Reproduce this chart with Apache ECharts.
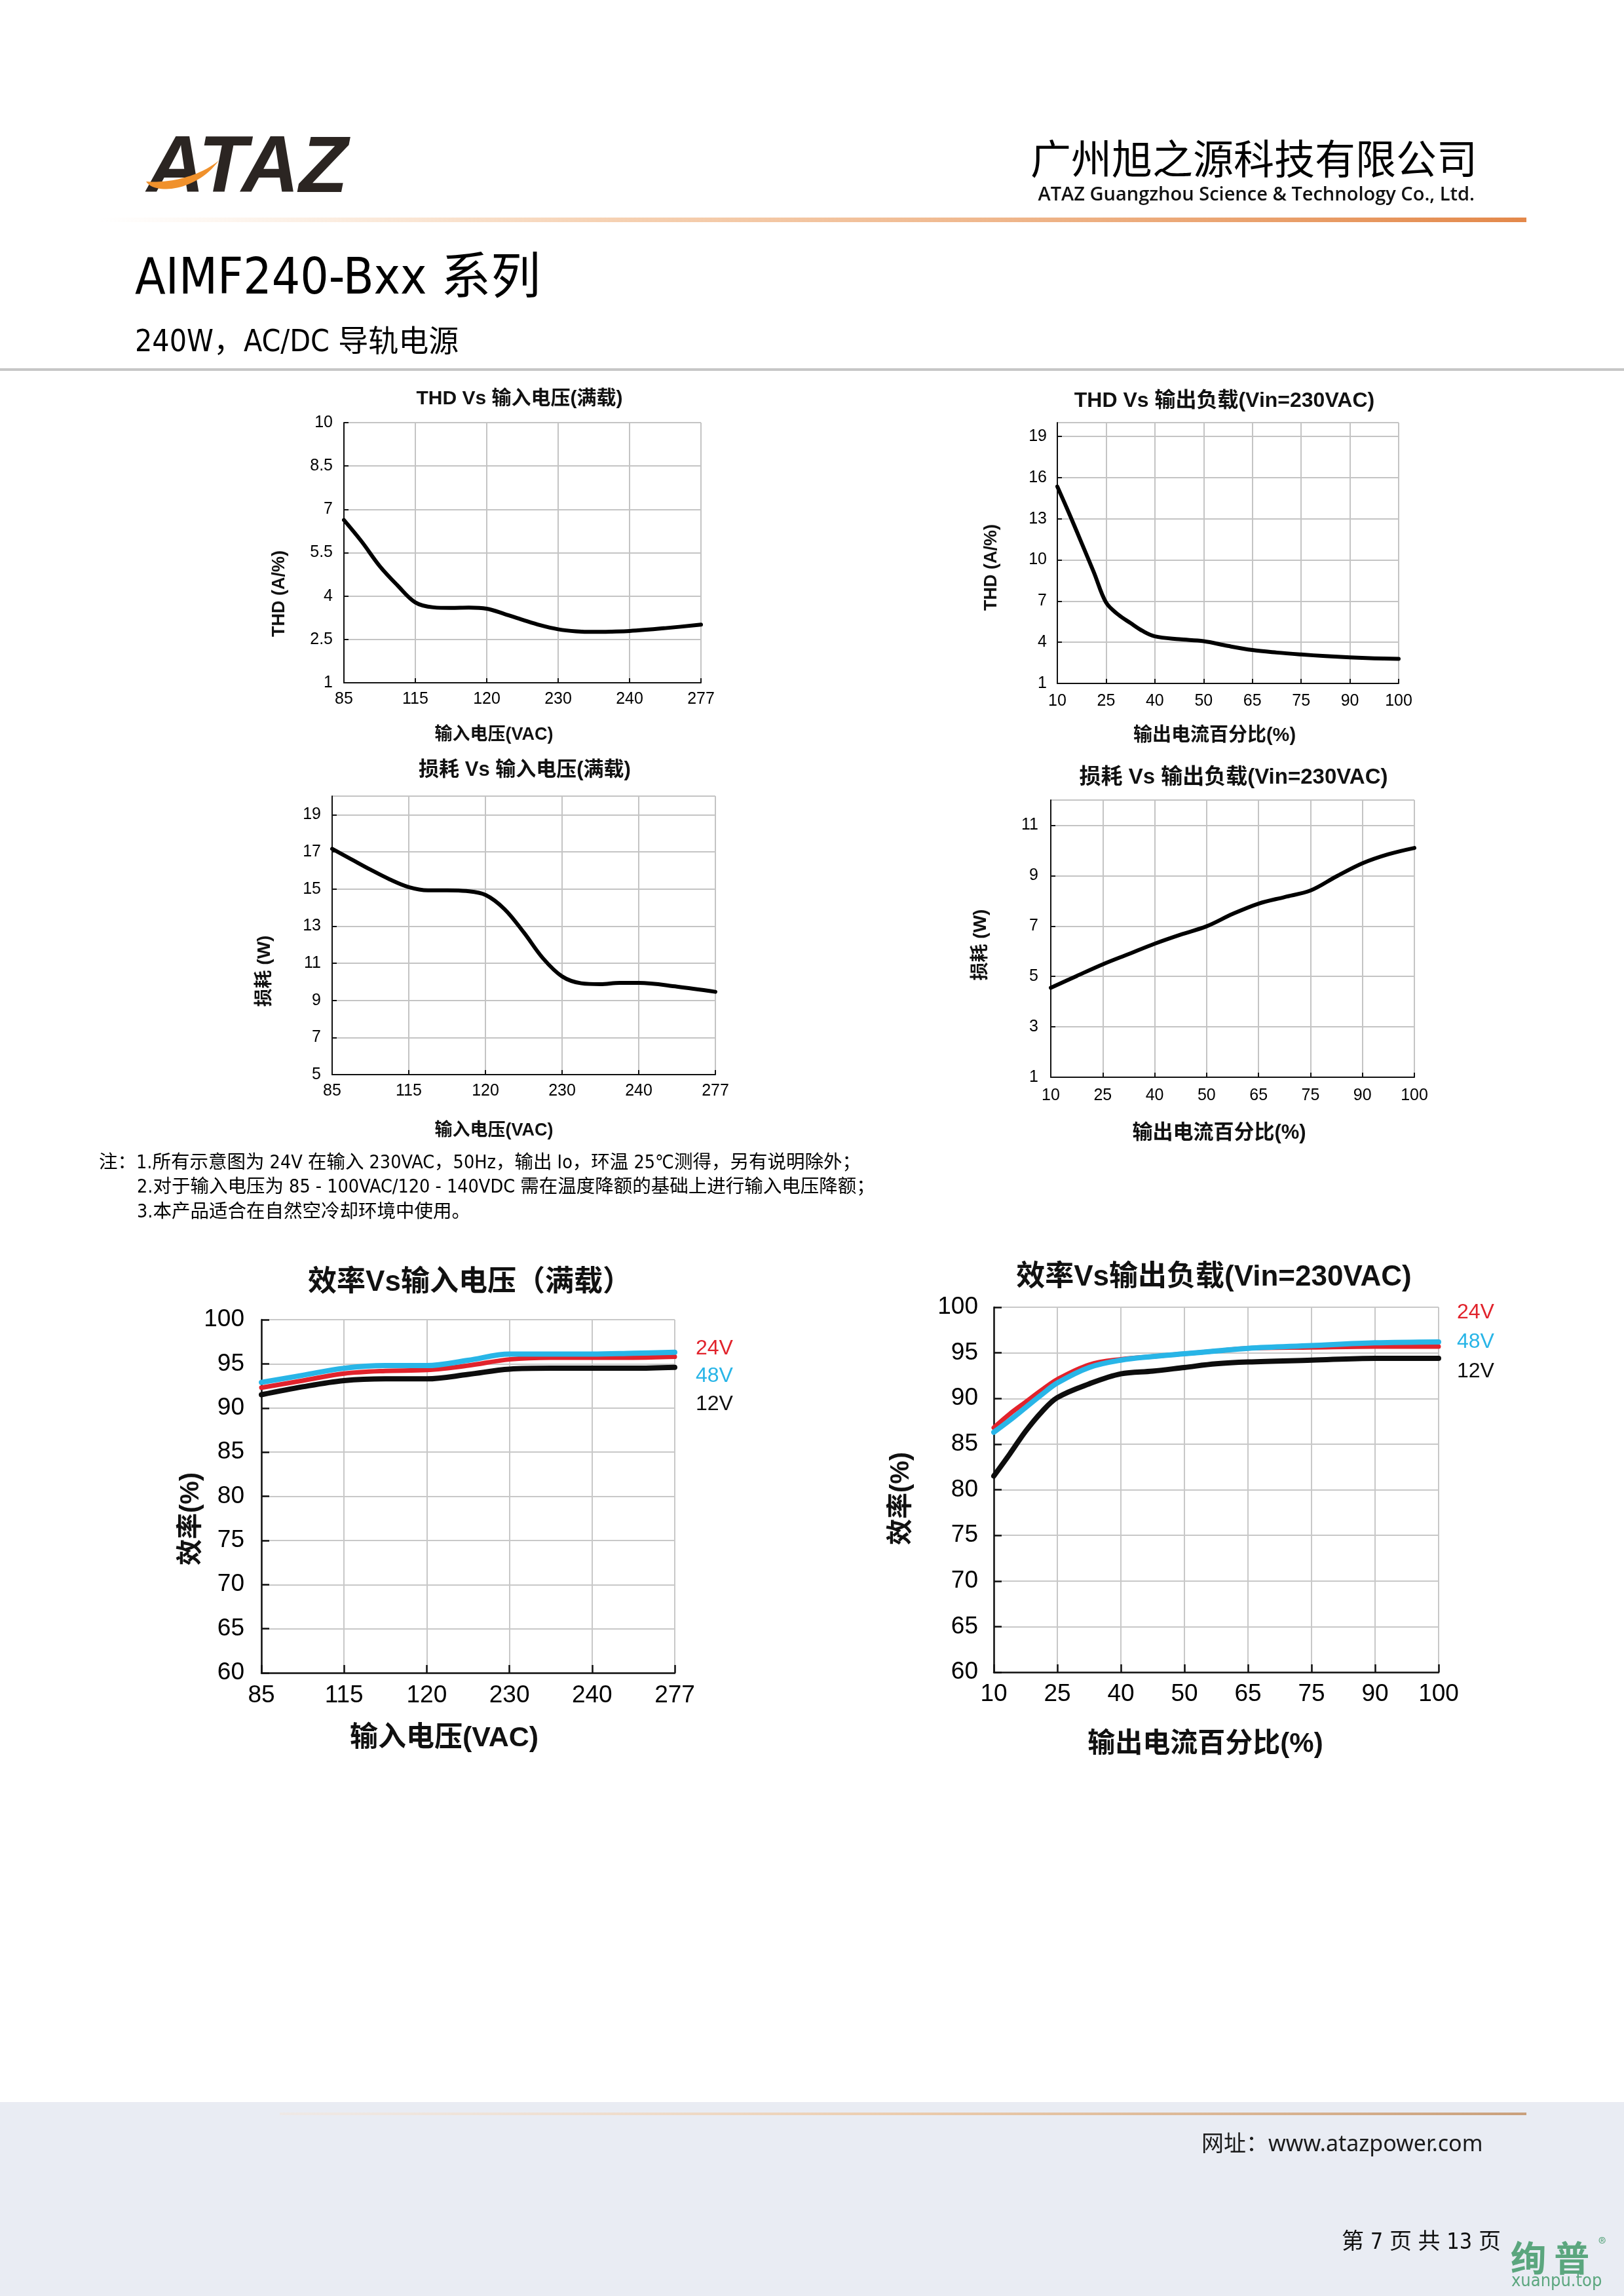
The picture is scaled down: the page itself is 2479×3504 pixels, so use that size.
<!DOCTYPE html>
<html><head><meta charset="utf-8">
<script src="https://cdn.jsdelivr.net/npm/echarts@6/dist/echarts.min.js"></script>
<style>html,body{margin:0;padding:0;background:#fff}#c{width:2479px;height:3504px}</style>
</head><body><div id="c"></div>
<script>
// ---------- data ----------
const vinLabels = ['85','115','120','230','240','277'];
const loadLabels = ['10','25','40','50','65','75','90','100'];

// THD vs input voltage (full load); x = position along the category axis
const thdVinX = [0,0.25,0.5,0.75,1,1.25,1.5,1.75,2,2.25,2.5,2.75,3,3.25,3.5,3.75,4,4.5,5];
const thdVinY = [6.63,5.88,5.04,4.37,3.78,3.61,3.59,3.60,3.56,3.38,3.18,2.99,2.85,2.78,2.76,2.77,2.79,2.89,3.01];

// THD vs output load
const thdLoadX = [0,0.25,0.5,0.75,1,1.25,1.5,1.75,2,2.5,3,3.5,4,4.5,5,5.5,6,6.5,7];
const thdLoadY = [15.34,13.32,11.21,9.09,6.89,6.01,5.40,4.82,4.43,4.22,4.08,3.73,3.43,3.25,3.11,2.99,2.90,2.83,2.79];

// Loss vs input voltage (full load)
const lossVinX = [0,0.25,0.5,0.75,1,1.25,1.5,1.75,2,2.25,2.5,2.75,3,3.25,3.5,3.75,4,4.5,5];
const lossVinY = [17.16,16.60,16.04,15.52,15.10,14.93,14.93,14.89,14.68,13.91,12.66,11.27,10.29,9.92,9.87,9.94,9.94,9.74,9.46];

// Loss vs output load
const lossLoadX = [0,0.5,1,1.5,2,2.5,3,3.5,4,4.5,5,5.5,6,6.5,7];
const lossLoadY = [4.55,5.02,5.48,5.89,6.30,6.66,6.99,7.48,7.89,8.15,8.41,8.97,9.49,9.85,10.10];

// Efficiency vs input voltage (full load)
const effVinX = [0,0.5,1,1.5,2,2.5,3,3.5,4,4.5,5];
const effVin24 = [92.3,93.1,93.9,94.2,94.3,94.8,95.5,95.7,95.7,95.7,95.8];
const effVin48 = [92.9,93.7,94.5,94.8,94.8,95.4,96.1,96.1,96.1,96.2,96.3];
const effVin12 = [91.5,92.4,93.1,93.3,93.3,93.8,94.4,94.5,94.5,94.5,94.6];

// Efficiency vs output load (Vin=230VAC)
const effLoadX = [0,0.25,0.5,0.75,1,1.5,2,2.5,3,3.5,4,5,6,7];
const effLoad24 = [86.8,88.3,89.6,90.9,92.1,93.7,94.3,94.6,94.9,95.2,95.5,95.6,95.7,95.7];
const effLoad48 = [86.3,87.6,89.0,90.4,91.7,93.4,94.2,94.6,94.9,95.2,95.5,95.8,96.1,96.2];
const effLoad12 = [81.5,83.9,86.4,88.5,90.1,91.6,92.7,93.0,93.4,93.8,94.0,94.2,94.4,94.4];

const seriesNames = ['24V','48V','12V'];

// ---------- styling helpers ----------
const CJK = '"Noto Sans CJK SC", sans-serif';
const NARROW = '"Liberation Sans Narrow", "DejaVu Sans Condensed", "Noto Sans CJK SC", sans-serif';
const SANS = '"Liberation Sans", "Noto Sans CJK SC", sans-serif';
const RED = '#e1232c', CYAN = '#28b5e7', BLACK = '#0d0d0d';

function xAxisCfg(gi, labels, o) {
  return {
    gridIndex: gi, type: 'value', min: 0, max: labels.length - 1, interval: 1,
    axisLine: {show: true, onZero: false, lineStyle: {color: '#111', width: o.axisW}},
    axisTick: {show: true, inside: true, length: o.tickLen, lineStyle: {color: '#111', width: o.axisW}},
    axisLabel: {formatter: v => labels[Math.round(v)] || '', fontSize: o.fs, color: '#000', margin: o.xm, fontFamily: o.ff},
    splitLine: {show: true, lineStyle: {color: o.gc, width: o.gridW}}
  };
}
function yAxisCfg(gi, min, max, interval, o, showMax) {
  return {
    gridIndex: gi, type: 'value', min, max, interval,
    axisLine: {show: true, onZero: false, lineStyle: {color: '#111', width: o.axisW}},
    axisTick: {show: true, inside: true, length: o.tickLen, lineStyle: {color: '#111', width: o.axisW}},
    axisLabel: {fontSize: o.fs, color: '#000', margin: o.ym, fontFamily: o.ff, showMaxLabel: showMax},
    splitLine: {show: true, lineStyle: {color: o.gc, width: o.gridW}}
  };
}
function lineSeries(gi, xs, ys, color, width, name) {
  return {
    type: 'line', name, xAxisIndex: gi, yAxisIndex: gi,
    data: xs.map((x, i) => [x, ys[i]]), smooth: 0.35, symbol: 'none', silent: true,
    lineStyle: {color, width, cap: 'round', join: 'round'}
  };
}
function txt(x, y, text, fs, o) {
  o = o || {};
  return {
    type: 'text', x, y, rotation: o.rot || 0, z: 100, silent: true,
    style: {text, fontSize: fs, fontFamily: o.ff || CJK, fontWeight: o.fw || 'normal',
      fontStyle: o.fst || 'normal', fill: o.color || '#111',
      align: o.align || 'center', verticalAlign: 'middle'}
  };
}
// sample a cubic bezier into points (used for the logo swoosh outline)
function bez(p0, p1, p2, p3, n) {
  const pts = [];
  for (let i = 0; i <= n; i++) {
    const t = i / n, u = 1 - t;
    pts.push([u*u*u*p0[0] + 3*u*u*t*p1[0] + 3*u*t*t*p2[0] + t*t*t*p3[0],
              u*u*u*p0[1] + 3*u*u*t*p1[1] + 3*u*t*t*p2[1] + t*t*t*p3[1]]);
  }
  return pts;
}
const swoosh = bez([223,277],[236,298],[300,292],[334,245],30).concat(bez([334,245],[306,268],[262,280],[223,277],30));

const S1 = {fs: 25, ff: SANS, axisW: 2, tickLen: 7, gridW: 2, gc: '#c4c4c4', xm: 13, ym: 17};
const S2 = {fs: 25, ff: SANS, axisW: 2, tickLen: 7, gridW: 2, gc: '#c4c4c4', xm: 15, ym: 16};
const S3 = {fs: 25, ff: SANS, axisW: 2, tickLen: 7, gridW: 2, gc: '#c4c4c4', xm: 13, ym: 17};
const S4 = {fs: 25, ff: SANS, axisW: 2, tickLen: 7, gridW: 2, gc: '#c4c4c4', xm: 16, ym: 19};
const S5 = {fs: 37, ff: SANS, axisW: 2.5, tickLen: 12, gridW: 2, gc: '#c8c8c8', xm: 16, ym: 26};
const S6 = {fs: 37, ff: SANS, axisW: 2.5, tickLen: 12, gridW: 2, gc: '#c8c8c8', xm: 15, ym: 24};

const grids = [
  {left: 525, top: 645, width: 545, height: 397},
  {left: 1614, top: 645, width: 521, height: 398},
  {left: 507, top: 1215, width: 585, height: 425},
  {left: 1604, top: 1221, width: 555, height: 423},
  {left: 399, top: 2014, width: 631, height: 539},
  {left: 1517, top: 1995, width: 679, height: 557}
].map(g => Object.assign({containLabel: false, outerBoundsMode: 'none'}, g));

const RY = Math.PI / 2;
const B = 'bold';
const graphics = [
  // header
  txt(224, 259, 'ATAZ', 122, {align: 'left', fw: B, fst: 'italic', color: '#2b2522', ff: '"Liberation Sans Narrow","Liberation Sans", sans-serif'}),
  {type: 'polygon', z: 101, silent: true, shape: {points: swoosh}, style: {fill: '#f0912c'}},
  txt(2255, 242, '广州旭之源科技有限公司', 62, {align: 'right', color: '#000'}),
  txt(2251, 298, 'ATAZ Guangzhou Science & Technology Co., Ltd.', 29, {align: 'right', fw: 600, ff: '"Open Sans", sans-serif', color: '#111'}),
  {type: 'rect', silent: true, z: 1, shape: {x: 150, y: 332, width: 2180, height: 7},
   style: {fill: new echarts.graphic.LinearGradient(0, 0, 1, 0, [
     {offset: 0, color: 'rgba(245,200,160,0)'}, {offset: 0.35, color: 'rgba(240,180,130,0.6)'}, {offset: 1, color: '#e3884a'}])}},
  txt(206, 428, 'AIMF240-Bxx 系列', 76, {align: 'left', ff: NARROW, color: '#000'}),
  txt(206, 524, '240W，AC/DC 导轨电源', 46, {align: 'left', ff: NARROW, color: '#000'}),
  {type: 'rect', silent: true, z: 1, shape: {x: 0, y: 562, width: 2479, height: 4}, style: {fill: '#c6c6c6'}},

  // chart 1
  txt(793, 609, 'THD Vs 输入电压(满载)', 30, {ff: SANS, fw: B}),
  txt(427, 906, 'THD (A/%)', 27, {ff: SANS, rot: RY, fw: B}),
  txt(754, 1122, '输入电压(VAC)', 27, {ff: SANS, fw: B}),
  // chart 2
  txt(1869, 612, 'THD Vs 输出负载(Vin=230VAC)', 32, {ff: SANS, fw: B}),
  txt(1514, 866, 'THD (A/%)', 27, {ff: SANS, rot: RY, fw: B}),
  txt(1854, 1123, '输出电流百分比(%)', 29, {ff: SANS, fw: B}),
  // chart 3
  txt(801, 1175, '损耗 Vs 输入电压(满载)', 31, {ff: SANS, fw: B}),
  txt(404, 1482, '损耗 (W)', 28, {ff: SANS, rot: RY, fw: B}),
  txt(754, 1726, '输入电压(VAC)', 27, {ff: SANS, fw: B}),
  // chart 4
  txt(1883, 1187, '损耗 Vs 输出负载(Vin=230VAC)', 33, {ff: SANS, fw: B}),
  txt(1497, 1442, '损耗 (W)', 28, {ff: SANS, rot: RY, fw: B}),
  txt(1861, 1729, '输出电流百分比(%)', 31, {ff: SANS, fw: B}),

  // notes
  txt(151, 1776, '注：1.所有示意图为 24V 在输入 230VAC，50Hz，输出 Io，环温 25℃测得，另有说明除外；', 28.5, {align: 'left', ff: NARROW, color: '#000'}),
  txt(209, 1813, '2.对于输入电压为 85 - 100VAC/120 - 140VDC 需在温度降额的基础上进行输入电压降额；', 28.5, {align: 'left', ff: NARROW, color: '#000'}),
  txt(209, 1851, '3.本产品适合在自然空冷却环境中使用。', 28.5, {align: 'left', ff: NARROW, color: '#000'}),

  // chart 5
  txt(717, 1958, '效率Vs输入电压（满载）', 44, {fw: B, ff: SANS}),
  txt(292, 2318, '效率(%)', 40, {fw: B, ff: SANS, rot: RY}),
  txt(678, 2653, '输入电压(VAC)', 43, {fw: B, ff: SANS}),
  txt(1062, 2058, seriesNames[0], 32, {align: 'left', color: RED, ff: SANS}),
  txt(1062, 2100, seriesNames[1], 32, {align: 'left', color: CYAN, ff: SANS}),
  txt(1062, 2143, seriesNames[2], 32, {align: 'left', color: BLACK, ff: SANS}),
  // chart 6
  txt(1853, 1950, '效率Vs输出负载(Vin=230VAC)', 44, {fw: B, ff: SANS}),
  txt(1376, 2287, '效率(%)', 40, {fw: B, ff: SANS, rot: RY}),
  txt(1840, 2662, '输出电流百分比(%)', 42, {fw: B, ff: SANS}),
  txt(2224, 2003, seriesNames[0], 32, {align: 'left', color: RED, ff: SANS}),
  txt(2224, 2048, seriesNames[1], 32, {align: 'left', color: CYAN, ff: SANS}),
  txt(2224, 2093, seriesNames[2], 32, {align: 'left', color: BLACK, ff: SANS}),

  // footer
  {type: 'rect', silent: true, z: 0, shape: {x: 0, y: 3208, width: 2479, height: 296}, style: {fill: '#e9ecf3'}},
  {type: 'rect', silent: true, z: 1, shape: {x: 427, y: 3224, width: 1903, height: 4},
   style: {fill: new echarts.graphic.LinearGradient(0, 0, 1, 0, [
     {offset: 0, color: 'rgba(250,225,200,0.3)'}, {offset: 0.5, color: 'rgba(235,200,165,0.9)'}, {offset: 1, color: '#c9a07c'}])}},
  txt(1834, 3273, '网址：www.atazpower.com', 34, {align: 'left', ff: '"Noto Sans", "Noto Sans CJK SC", sans-serif', color: '#1a1a1a'}),
  txt(2048, 3423, '第 7 页 共 13 页', 34, {align: 'left', ff: NARROW, color: '#111'}),
  txt(2306, 3446, '绚 普', 54, {align: 'left', fw: B, color: '#5ba67e'}),
  txt(2440, 3424, '®', 24, {align: 'left', color: '#5ba67e'}),
  txt(2307, 3482, 'xuanpu.top', 27, {align: 'left', ff: NARROW, color: '#5ba67e'})
];

const option = {
  animation: false,
  backgroundColor: '#ffffff',
  grid: grids,
  xAxis: [
    xAxisCfg(0, vinLabels, S1), xAxisCfg(1, loadLabels, S2),
    xAxisCfg(2, vinLabels, S3), xAxisCfg(3, loadLabels, S4),
    xAxisCfg(4, vinLabels, S5), xAxisCfg(5, loadLabels, S6)
  ],
  yAxis: [
    yAxisCfg(0, 1, 10, 1.5, S1, true),
    yAxisCfg(1, 1, 20, 3, S2, false),
    yAxisCfg(2, 5, 20, 2, S3, false),
    yAxisCfg(3, 1, 12, 2, S4, false),
    yAxisCfg(4, 60, 100, 5, S5, true),
    yAxisCfg(5, 60, 100, 5, S6, true)
  ],
  series: [
    lineSeries(0, thdVinX, thdVinY, '#000', 6, 'THD'),
    lineSeries(1, thdLoadX, thdLoadY, '#000', 6, 'THD'),
    lineSeries(2, lossVinX, lossVinY, '#000', 6, 'loss'),
    lineSeries(3, lossLoadX, lossLoadY, '#000', 6, 'loss'),
    lineSeries(4, effVinX, effVin12, BLACK, 8, seriesNames[2]),
    lineSeries(4, effVinX, effVin24, RED, 7, seriesNames[0]),
    lineSeries(4, effVinX, effVin48, CYAN, 8, seriesNames[1]),
    lineSeries(5, effLoadX, effLoad12, BLACK, 8, seriesNames[2]),
    lineSeries(5, effLoadX, effLoad24, RED, 7, seriesNames[0]),
    lineSeries(5, effLoadX, effLoad48, CYAN, 8, seriesNames[1])
  ],
  graphic: graphics
};
const chart = echarts.init(document.getElementById('c'), null, {renderer: 'canvas', width: 2479, height: 3504});
chart.setOption(option);
</script></body></html>
